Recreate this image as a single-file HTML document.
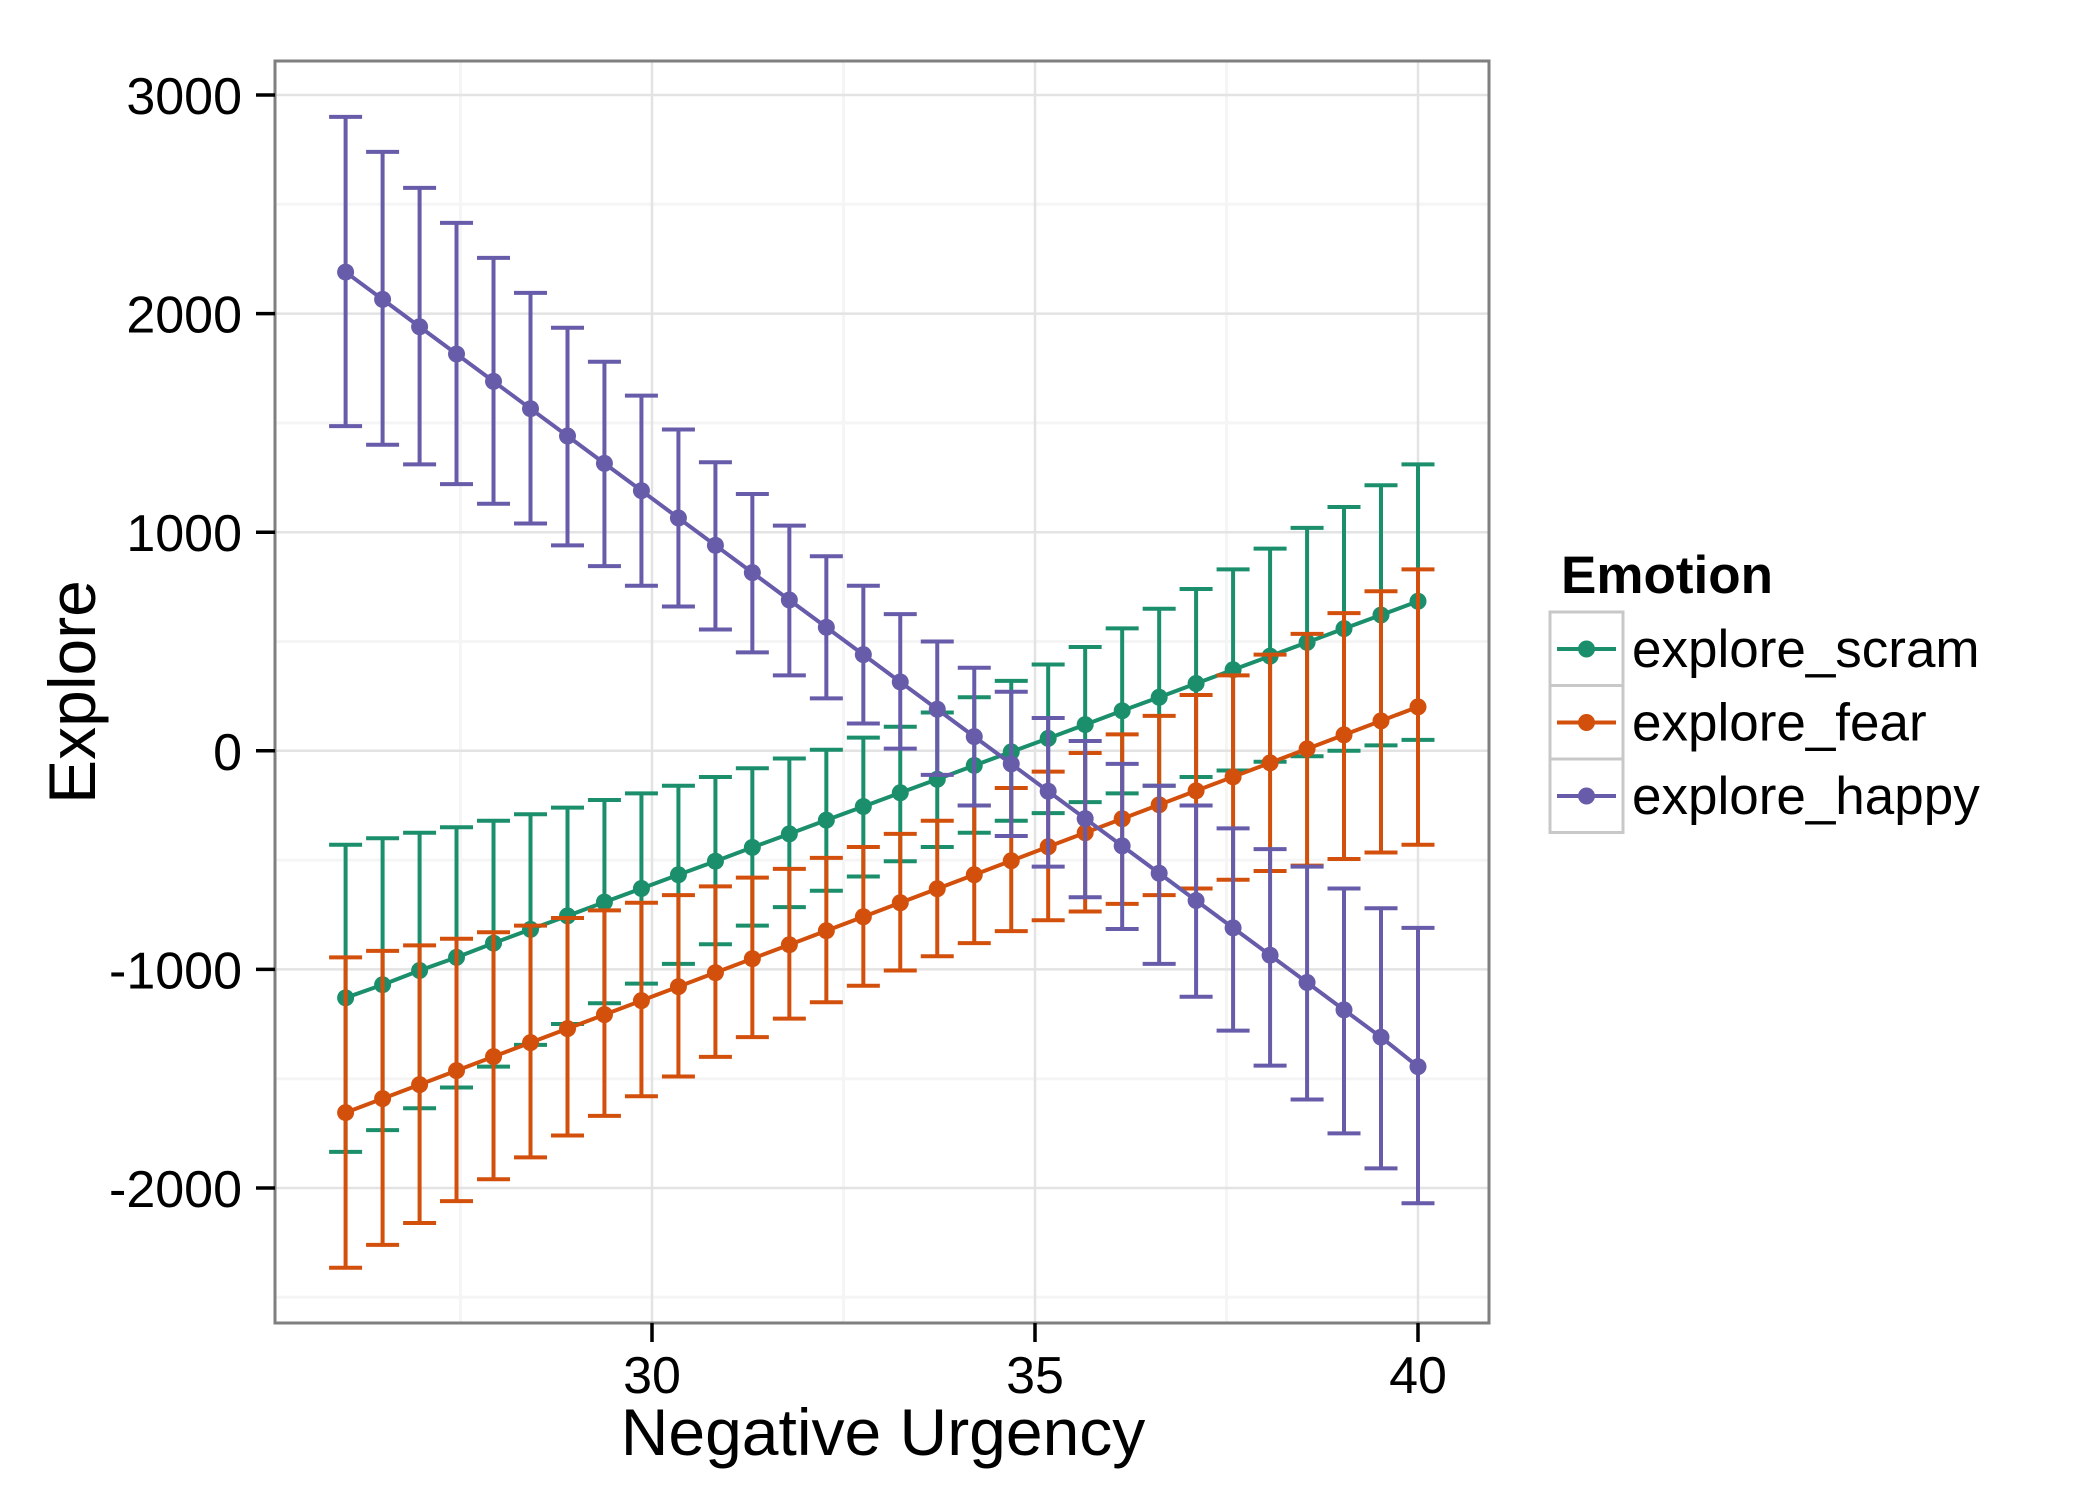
<!DOCTYPE html>
<html><head><meta charset="utf-8"><style>
html,body{margin:0;padding:0;background:#fff;}
svg{display:block;font-family:"Liberation Sans",sans-serif;}
</style></head><body>
<svg id="chart" width="2100" height="1500" viewBox="0 0 2100 1500" xmlns="http://www.w3.org/2000/svg">
<rect x="275" y="61" width="1214" height="1262" fill="#fff"/>
<g id="grid"></g>
<g id="series"></g>
<rect x="275" y="61" width="1214" height="1262" fill="none" stroke="#7f7f7f" stroke-width="3"/>
<g id="axes"></g>
<text x="883" y="1455" font-size="66" text-anchor="middle" fill="#000">Negative Urgency</text>
<text transform="translate(95,692) rotate(-90)" font-size="66" text-anchor="middle" fill="#000">Explore</text>
<g id="legend">
<text x="1561" y="593" font-size="53" font-weight="bold">Emotion</text>
</g>
</svg>
<script>
const xs = [26,26.483,26.966,27.448,27.931,28.414,28.897,29.379,29.862,30.345,30.828,31.310,31.793,32.276,32.759,33.241,33.724,34.207,34.690,35.172,35.655,36.138,36.621,37.103,37.586,38.069,38.552,39.034,39.517,40];
const scramMean = [-1130,-1070,-1005,-945,-880,-817,-755,-692,-630,-567,-505,-442,-380,-317,-255,-192,-130,-67,-5,57,120,183,245,308,371,433,496,559,621,684];
const scramUpper = [-430,-400,-375,-350,-320,-290,-260,-225,-195,-160,-120,-80,-35,5,60,110,175,245,320,395,475,560,650,740,830,925,1020,1115,1215,1310];
const scramLower = [-1835,-1735,-1635,-1540,-1445,-1345,-1250,-1155,-1065,-975,-885,-800,-715,-640,-575,-505,-440,-375,-320,-285,-235,-195,-160,-120,-90,-50,-25,0,25,50];
const fearMean = [-1655,-1591,-1527,-1463,-1399,-1335,-1271,-1207,-1143,-1079,-1015,-951,-887,-823,-759,-695,-631,-567,-503,-439,-375,-311,-247,-183,-119,-55,9,73,137,201];
const fearUpper = [-945,-915,-890,-860,-830,-800,-765,-730,-695,-660,-620,-580,-540,-490,-440,-380,-320,-250,-170,-95,-10,75,160,255,345,440,535,630,730,830];
const fearLower = [-2365,-2260,-2160,-2060,-1960,-1860,-1760,-1670,-1580,-1490,-1400,-1310,-1225,-1150,-1075,-1005,-940,-880,-825,-775,-735,-700,-660,-630,-590,-550,-525,-495,-465,-430];
const happyMean = [2190,2065,1940,1815,1690,1565,1440,1315,1190,1065,940,815,690,565,440,315,190,65,-60,-185,-310,-435,-560,-685,-810,-935,-1060,-1185,-1310,-1445];
const happyUpper = [2900,2740,2575,2415,2255,2095,1935,1780,1625,1470,1320,1175,1030,890,755,625,500,380,270,150,45,-60,-160,-250,-355,-450,-530,-630,-720,-810];
const happyLower = [1485,1400,1310,1220,1130,1040,940,845,755,660,555,450,345,240,125,10,-110,-250,-390,-530,-670,-815,-975,-1125,-1280,-1440,-1595,-1750,-1910,-2070];
const seriesNames = ["explore_scram","explore_fear","explore_happy"];
const xTicks = [30,35,40];
const xMinor = [27.5,32.5,37.5];
const yTicks = [-2000,-1000,0,1000,2000,3000];
const yMinor = [-2500,-1500,-500,500,1500,2500];

const NS="http://www.w3.org/2000/svg";
const X = v => 652 + (v-30)*76.6;
const Y = v => 750.8 - v*0.2186;
const PL=275, PR=1489, PT=61, PB=1323;
function mk(tag, attrs, parent){const e=document.createElementNS(NS,tag);for(const k in attrs)e.setAttribute(k,attrs[k]);parent.appendChild(e);return e;}
const grid=document.getElementById('grid'), axes=document.getElementById('axes'), ser=document.getElementById('series'), leg=document.getElementById('legend');

yMinor.forEach(v=>{const l=mk('line',{x1:PL,x2:PR,y1:Y(v),y2:Y(v),stroke:'#f5f5f5','stroke-width':3},grid);

});
xMinor.forEach(v=>{const l=mk('line',{x1:X(v),x2:X(v),y1:PT,y2:PB,stroke:'#f5f5f5','stroke-width':3},grid);

});
yTicks.forEach(v=>{const l=mk('line',{x1:PL,x2:PR,y1:Y(v),y2:Y(v),stroke:'#e3e3e3','stroke-width':2.5},grid);


const t=mk('line',{x1:256,x2:PL,y1:Y(v),y2:Y(v),stroke:'#000','stroke-width':3.5},axes);


const tx=mk('text',{x:242,y:Y(v)+19,'font-size':52,'text-anchor':'end'},axes);tx.textContent=v;

});
xTicks.forEach(v=>{const l=mk('line',{x1:X(v),x2:X(v),y1:PT,y2:PB,stroke:'#e3e3e3','stroke-width':2.5},grid);


const t=mk('line',{x1:X(v),x2:X(v),y1:PB,y2:PB+19,stroke:'#000','stroke-width':3.5},axes);


const tx=mk('text',{x:X(v),y:1393,'font-size':52,'text-anchor':'middle'},axes);tx.textContent=v;

});

const data=[[scramMean,scramUpper,scramLower,'#1b8f6c'],[fearMean,fearUpper,fearLower,'#d2500c'],[happyMean,happyUpper,happyLower,'#675caa']];
data.forEach((d,si)=>{
  const [m,u,lo,c]=d;
  const g=mk('g',{},ser);
  
  
  xs.forEach((x,i)=>{
    const cx=X(x);
    const e=mk('path',{d:`M${cx-16.5},${Y(u[i])}H${cx+16.5}M${cx},${Y(u[i])}V${Y(lo[i])}M${cx-16.5},${Y(lo[i])}H${cx+16.5}`,stroke:c,'stroke-width':4,fill:'none'},g);
    
    
  });
  const p=mk('polyline',{points:xs.map((x,i)=>X(x)+','+Y(m[i])).join(' '),stroke:c,'stroke-width':4,fill:'none'},g);
  
  
  xs.forEach((x,i)=>{
    const pt=mk('circle',{cx:X(x),cy:Y(m[i]),r:8.5,fill:c},g);
    
    
  });
  const ky=612+si*73.5;
  const kb=mk('rect',{x:1550,y:ky,width:73,height:73.5,fill:'#fff',stroke:'#c8c8c8','stroke-width':3},leg);
  
  
  const kl=mk('line',{x1:1557,x2:1616,y1:ky+37,y2:ky+37,stroke:c,'stroke-width':4},leg);
  
  
  const kc=mk('circle',{cx:1586.5,cy:ky+37,r:8.5,fill:c},leg);
  
  
  const lt=mk('text',{x:1632,y:ky+55,'font-size':53},leg);lt.textContent=seriesNames[si];
  
  
});
</script>
</body></html>
